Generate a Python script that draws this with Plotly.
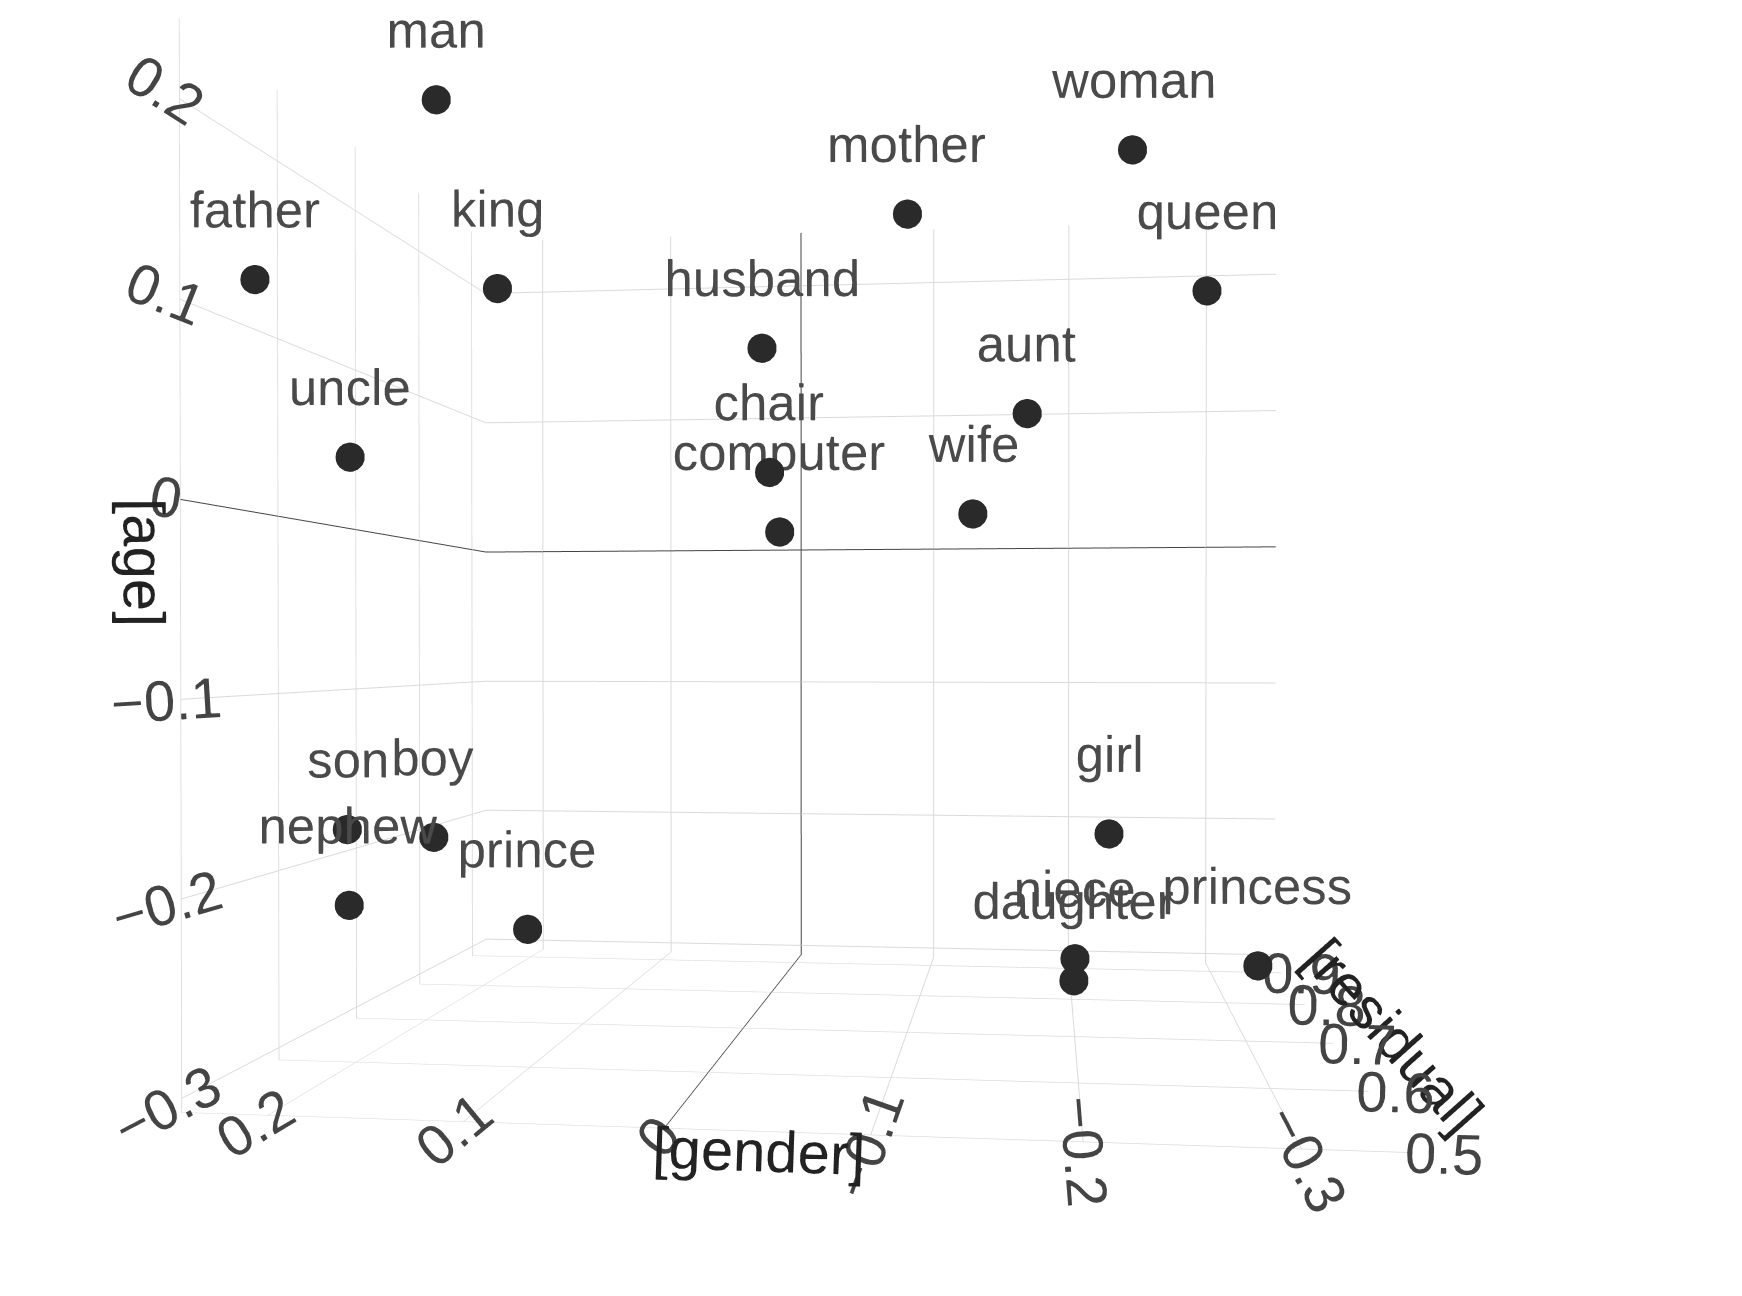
import plotly.graph_objects as go

# ---- data ----
words = ["man", "woman", "mother", "queen", "father", "king", "husband", "aunt",
         "uncle", "chair", "computer", "wife", "girl", "son", "boy", "nephew",
         "prince", "niece", "daughter", "princess"]
gender = [0.145, -0.229, -0.100, -0.287, 0.227, 0.161, 0.021, -0.170,
          0.203, 0.019, 0.014, -0.137, -0.220, 0.205, 0.175, 0.181,
          0.152, -0.200, -0.199, -0.320]
residual = [0.58, 0.62, 0.70, 0.80, 0.54, 0.72, 0.88, 0.85,
            0.60, 0.90, 0.915, 0.75, 0.70, 0.60, 0.65, 0.55,
            0.75, 0.70, 0.68, 0.80]
age = [0.224, 0.197, 0.188, 0.160, 0.119, 0.154, 0.144, 0.089,
       0.033, 0.056, 0.013, 0.011, -0.185, -0.176, -0.186, -0.210,
       -0.258, -0.260, -0.269, -0.282]

age_ticks = [0.2, 0.1, 0.0, -0.1, -0.2, -0.3]
gender_range = [-0.35, 0.245]
residual_range = [0.5, 0.93]
age_range = [-0.307, 0.240]

FONT = "Arial, Liberation Sans, sans-serif"


def fmt(v):
    return "0" if v == 0 else f"{v:g}".replace("-", "\u2212")


# the scene is viewed with the camera turned upside down (so the grid is laid
# on the floor); the age axis is therefore plotted on a flipped scale and its
# ticks are labelled with the true age values
z_plot = [-a for a in age]

fig = go.Figure(go.Scatter3d(
    x=gender, y=residual, z=z_plot,
    customdata=age,
    mode="markers+text",
    text=words,
    textposition="top center",
    textfont=dict(family=FONT, size=51, color="#4a4a4a"),
    marker=dict(size=17, color="#2a2a2a", line=dict(width=0)),
    hovertemplate="%{text}<br>gender=%{x}<br>residual=%{y}<br>age=%{customdata}<extra></extra>",
))


def axis(title, rng, **kw):
    d = dict(
        title=dict(text=title, font=dict(family=FONT, size=58, color="#222222")),
        range=rng,
        dtick=0.1,
        showbackground=False,
        showgrid=True, gridcolor="rgb(218,218,218)", gridwidth=2,
        zeroline=True, zerolinecolor="#444444", zerolinewidth=2,
        showline=False, showspikes=False,
        tickfont=dict(family=FONT, size=26, color="#444444"),
    )
    d.update(kw)
    return d


fig.update_layout(
    template="none",
    width=1742, height=1296,
    margin=dict(l=0, r=0, t=0, b=0),
    paper_bgcolor="white",
    showlegend=False,
    scene=dict(
        domain=dict(x=[0, 1], y=[0, 1]),
        dragmode="orbit",
        xaxis=axis("[gender]", gender_range),
        yaxis=axis("[residual]", residual_range),
        zaxis=axis("[age]", [-age_range[1], -age_range[0]],
                   tickmode="array",
                   tickvals=[-t for t in age_ticks],
                   ticktext=[fmt(t) for t in age_ticks]),
        aspectmode="manual",
        aspectratio=dict(x=1.095, y=0.789, z=1.0),
        camera=dict(
            eye=dict(x=-0.237, y=-1.7508, z=0.0747),
            center=dict(x=-0.05437, y=-0.01037, z=0.08356),
            up=dict(x=0, y=0, z=-1),
        ),
        bgcolor="white",
    ),
)

fig.write_html("out.html")
